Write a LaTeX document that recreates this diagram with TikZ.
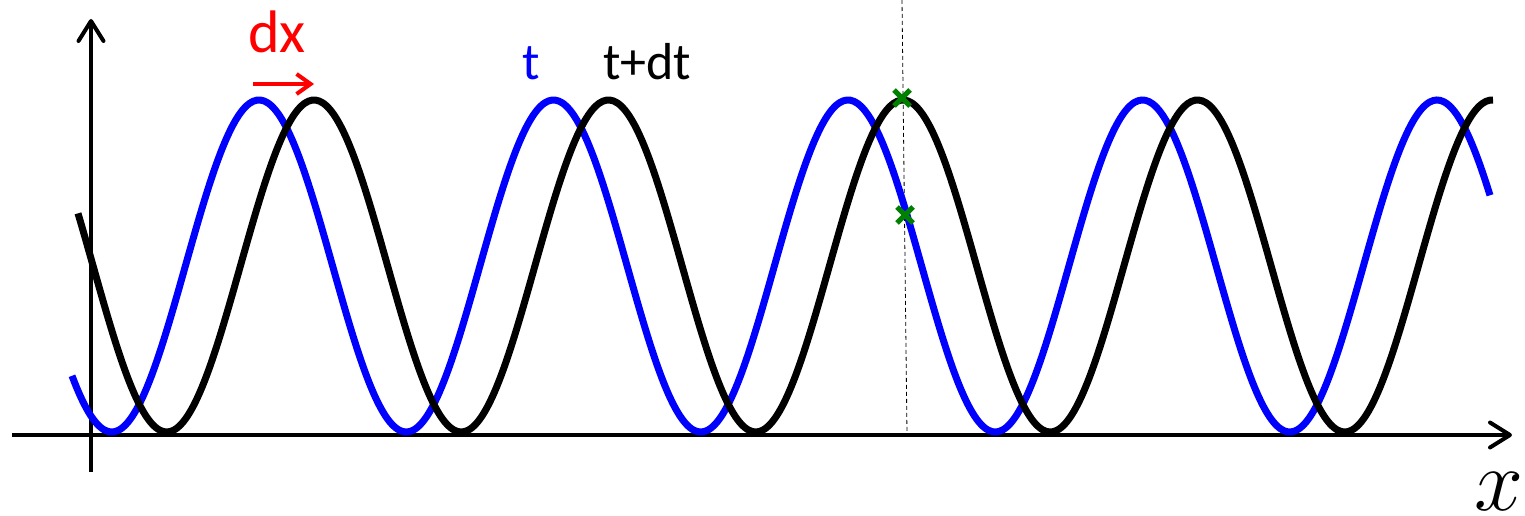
\RequirePackage{fix-cm}
\documentclass[tikz,border=0pt]{standalone}
\usepackage{fontspec}
\setmainfont{Carlito}
\usepackage{tikz}
\usetikzlibrary{arrows.meta,shapes.misc}
\definecolor{pdfcolor1}{RGB}{0,0,255}
\definecolor{pdfcolor2}{RGB}{255,0,0}
\definecolor{pdfcolor3}{RGB}{0,128,0}

\begin{document}
\begin{tikzpicture}[x=1bp,y=-1bp,inner sep=0pt,outer sep=0pt]
  \useasboundingbox (0,0) rectangle (1525,516);
  % axes
  \coordinate (xstart) at (12,435);
  \coordinate (xend) at (1512,435);
  \coordinate (ystart) at (91,472);
  \coordinate (yend) at (91,19);
  \draw[line width=4bp,-{Straight Barb[length=20bp,width=25bp,round]}] (xstart) -- (xend);
  \draw[line width=4bp,-{Straight Barb[length=20bp,width=25bp,round]}] (ystart) -- (yend);
  % dashed marker line
  \coordinate (cuttop) at (902,0);
  \coordinate (cutbot) at (907,435);
  \draw[line width=0.8bp,dashed,dash pattern=on 4bp off 3bp] (cuttop) -- (cutbot);
  % waves at t and t+dt
  \draw[pdfcolor1,line width=7bp] plot[domain=72:1490,samples=400,smooth] (\x,{266-166*cos(((\x-259)/294.5)*360)});
  \draw[black,line width=7bp] plot[domain=78:1493,samples=400,smooth] (\x,{266-166*cos(((\x-314)/294.5)*360)});
  % marks
  \node[cross out,draw=pdfcolor3,line width=5bp,minimum size=16bp] (markpeak) at (902,98) {};
  \node[cross out,draw=pdfcolor3,line width=5bp,minimum size=16bp] (markslope) at (905,215) {};
  % labels
  \node[anchor=base west] (dxlabel) at (248,53) {{\fontsize{60bp}{72bp}\selectfont \textcolor{pdfcolor2}{dx}}};
  \coordinate (dxstart) at (253,84);
  \coordinate (dxend) at (314,84);
  \draw[pdfcolor2,line width=4bp,-{Straight Barb[length=14bp,width=20bp]}] (dxstart) -- (dxend);
  \node[anchor=base west] (tlabel) at (522,80) {{\fontsize{52bp}{62bp}\selectfont \textcolor{pdfcolor1}{t}}};
  \node[anchor=base west] (tdtlabel) at (603,80) {{\fontsize{52bp}{62bp}\selectfont t+dt}};
  \node[anchor=base east] (xlabel) at (1523,510) {{\fontsize{88bp}{106bp}\selectfont $x$}};
\end{tikzpicture}
\end{document}
